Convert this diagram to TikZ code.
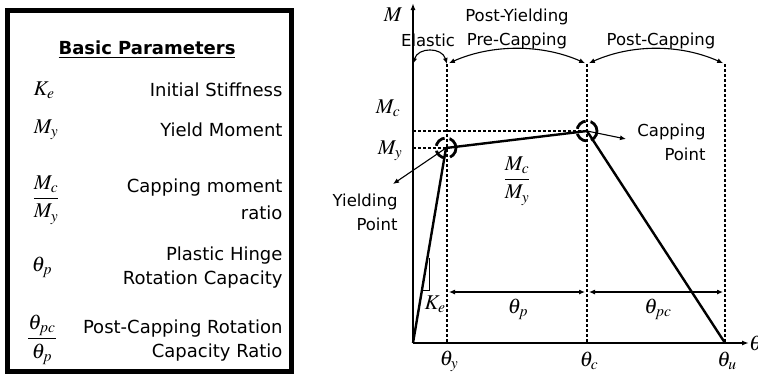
\documentclass[tikz,border=0pt]{standalone}
\usepackage{amsmath}
\usepackage{mathptmx}
\usepackage{fontspec}
\setmainfont{DejaVu Sans}
\usetikzlibrary{arrows.meta}

\begin{document}
\begin{tikzpicture}[x=1pt,y=-1pt,
  curve/.style={line width=2.4pt,line join=round},
  guide/.style={dash pattern=on 3pt off 2pt,line width=1.3pt},
  span/.style={{Latex[length=6pt,width=5pt]}-{Latex[length=6pt,width=5pt]},line width=1.1pt},
  pointer/.style={-{Latex[length=6pt,width=5pt]},line width=1.1pt},
  ring/.style={line width=2.8pt,dash pattern=on 12pt off 5pt},
  lbl/.style={font=\fontsize{16.5}{24}\selectfont},
  sym/.style={font=\fontsize{21}{24}\selectfont},
  legtxt/.style={font=\fontsize{18}{24}\selectfont,align=right,anchor=east}]
\useasboundingbox (0,0) rectangle (758,373);
% legend
\draw[line width=5pt] (7,10) rectangle (291,371);
\node[font=\bfseries\fontsize{18}{22}\selectfont] (title) at (147,50) {\underline{Basic Parameters}};
\node[sym] (kesym) at (44,90) {$K_e$};
\node[legtxt] (ketxt) at (286,90) {Initial Stiffness};
\node[sym] (mysym) at (46,130) {$M_y$};
\node[legtxt] (mytxt) at (286,130) {Yield Moment};
\node[sym] (mcsym) at (46,200) {$\dfrac{M_c}{M_y}$};
\node[legtxt] (mctxt) at (286,199) {Capping moment\\[3pt]ratio};
\node[sym] (tpsym) at (42,267) {$\theta_p$};
\node[legtxt] (tptxt) at (286,268) {Plastic Hinge\\Rotation Capacity};
\node[sym] (tpcsym) at (42,340) {$\dfrac{\theta_{pc}}{\theta_p}$};
\node[legtxt] (tpctxt) at (286,341) {Post-Capping Rotation\\Capacity Ratio};

% backbone curve
\coordinate (O) at (413,343);
\coordinate (Y) at (446,148);
\coordinate (C) at (587,131);
\coordinate (U) at (725,343);
\coordinate (Mtop) at (413,3);
\coordinate (Tend) at (749,343);
\coordinate (eTop) at (413,64);
\coordinate (yTop) at (447,64);
\coordinate (cTop) at (587,64);
\coordinate (uTop) at (725,64);
\coordinate (yBot) at (447,343);
\coordinate (cBot) at (587,343);
\coordinate (yDim) at (447,292);
\coordinate (cDim) at (587,292);
\coordinate (uDim) at (725,292);

\draw[guide] (yTop) -- (yBot);
\draw[guide] (cTop) -- (cBot);
\draw[guide] (uTop) -- (U);
\draw[guide] (O |- C) -- (C);
\draw[guide] (O |- Y) -- (Y);

\draw[line width=1.4pt,-{Latex[length=7pt,width=5pt]}] (O) -- (Mtop);
\draw[line width=1.4pt,-{Latex[length=7pt,width=5pt]}] (O) -- (Tend);
\node[sym] (mlab) at (393,15) {$M$};
\node[sym,anchor=west,inner sep=0pt] (tlab) at (749,343) {$\theta$};

\draw[span] (eTop) .. controls +(5,-17) and +(-5,-17) .. (yTop);
\draw[span,shorten <=2pt,shorten >=2pt] (yTop) .. controls +(45,-20) and +(-45,-20) .. (cTop);
\draw[span,shorten <=2pt,shorten >=2pt] (cTop) .. controls +(45,-20) and +(-45,-20) .. (uTop);
\node[lbl] (elastic) at (428,40) {Elastic};
\node[lbl,align=center] (pyield) at (517,29) {Post-Yielding\\Pre-Capping};
\node[lbl] (pcap) at (661,41) {Post-Capping};

\draw[curve] (O) -- (Y) -- (C) -- (U);
\draw[ring] (Y) circle[radius=10pt];
\draw[ring] (C) circle[radius=10pt];

\coordinate (ypt) at (393,184);
\coordinate (cpt) at (626,139);
\draw[pointer] (Y) -- (ypt);
\draw[pointer] (C) -- (cpt);
\node[lbl,align=right,anchor=east] (yieldtxt) at (401,212) {Yielding\\Point};
\node[lbl,align=right,anchor=east] (captxt) at (709,142) {Capping\\Point};

\node[sym] (mclab) at (388,108) {$M_c$};
\node[sym] (mylab) at (390,151) {$M_y$};
\node[sym] (ratio) at (517,181) {$\dfrac{M_c\rule[-4pt]{0pt}{4pt}}{M_y\rule{0pt}{16pt}}$};

% stiffness triangle
\coordinate (k1) at (422,290);
\coordinate (k2) at (429,290);
\coordinate (k3) at (429,258);
\draw[line width=1pt] (k1) -- (k2) -- (k3);
\node[sym] (kelab) at (435,304) {$K_e$};

\draw[span,shorten <=2pt,shorten >=2pt] (yDim) -- (cDim);
\draw[span,shorten <=2pt,shorten >=2pt] (cDim) -- (uDim);
\node[sym] (tplab) at (518,309) {$\theta_p$};
\node[sym] (tpclab) at (658,309) {$\theta_{pc}$};

\node[sym] (tylab) at (449,361) {$\theta_y$};
\node[sym] (tclab) at (589,361) {$\theta_c$};
\node[sym] (tulab) at (727,361) {$\theta_u$};
\end{tikzpicture}
\end{document}
